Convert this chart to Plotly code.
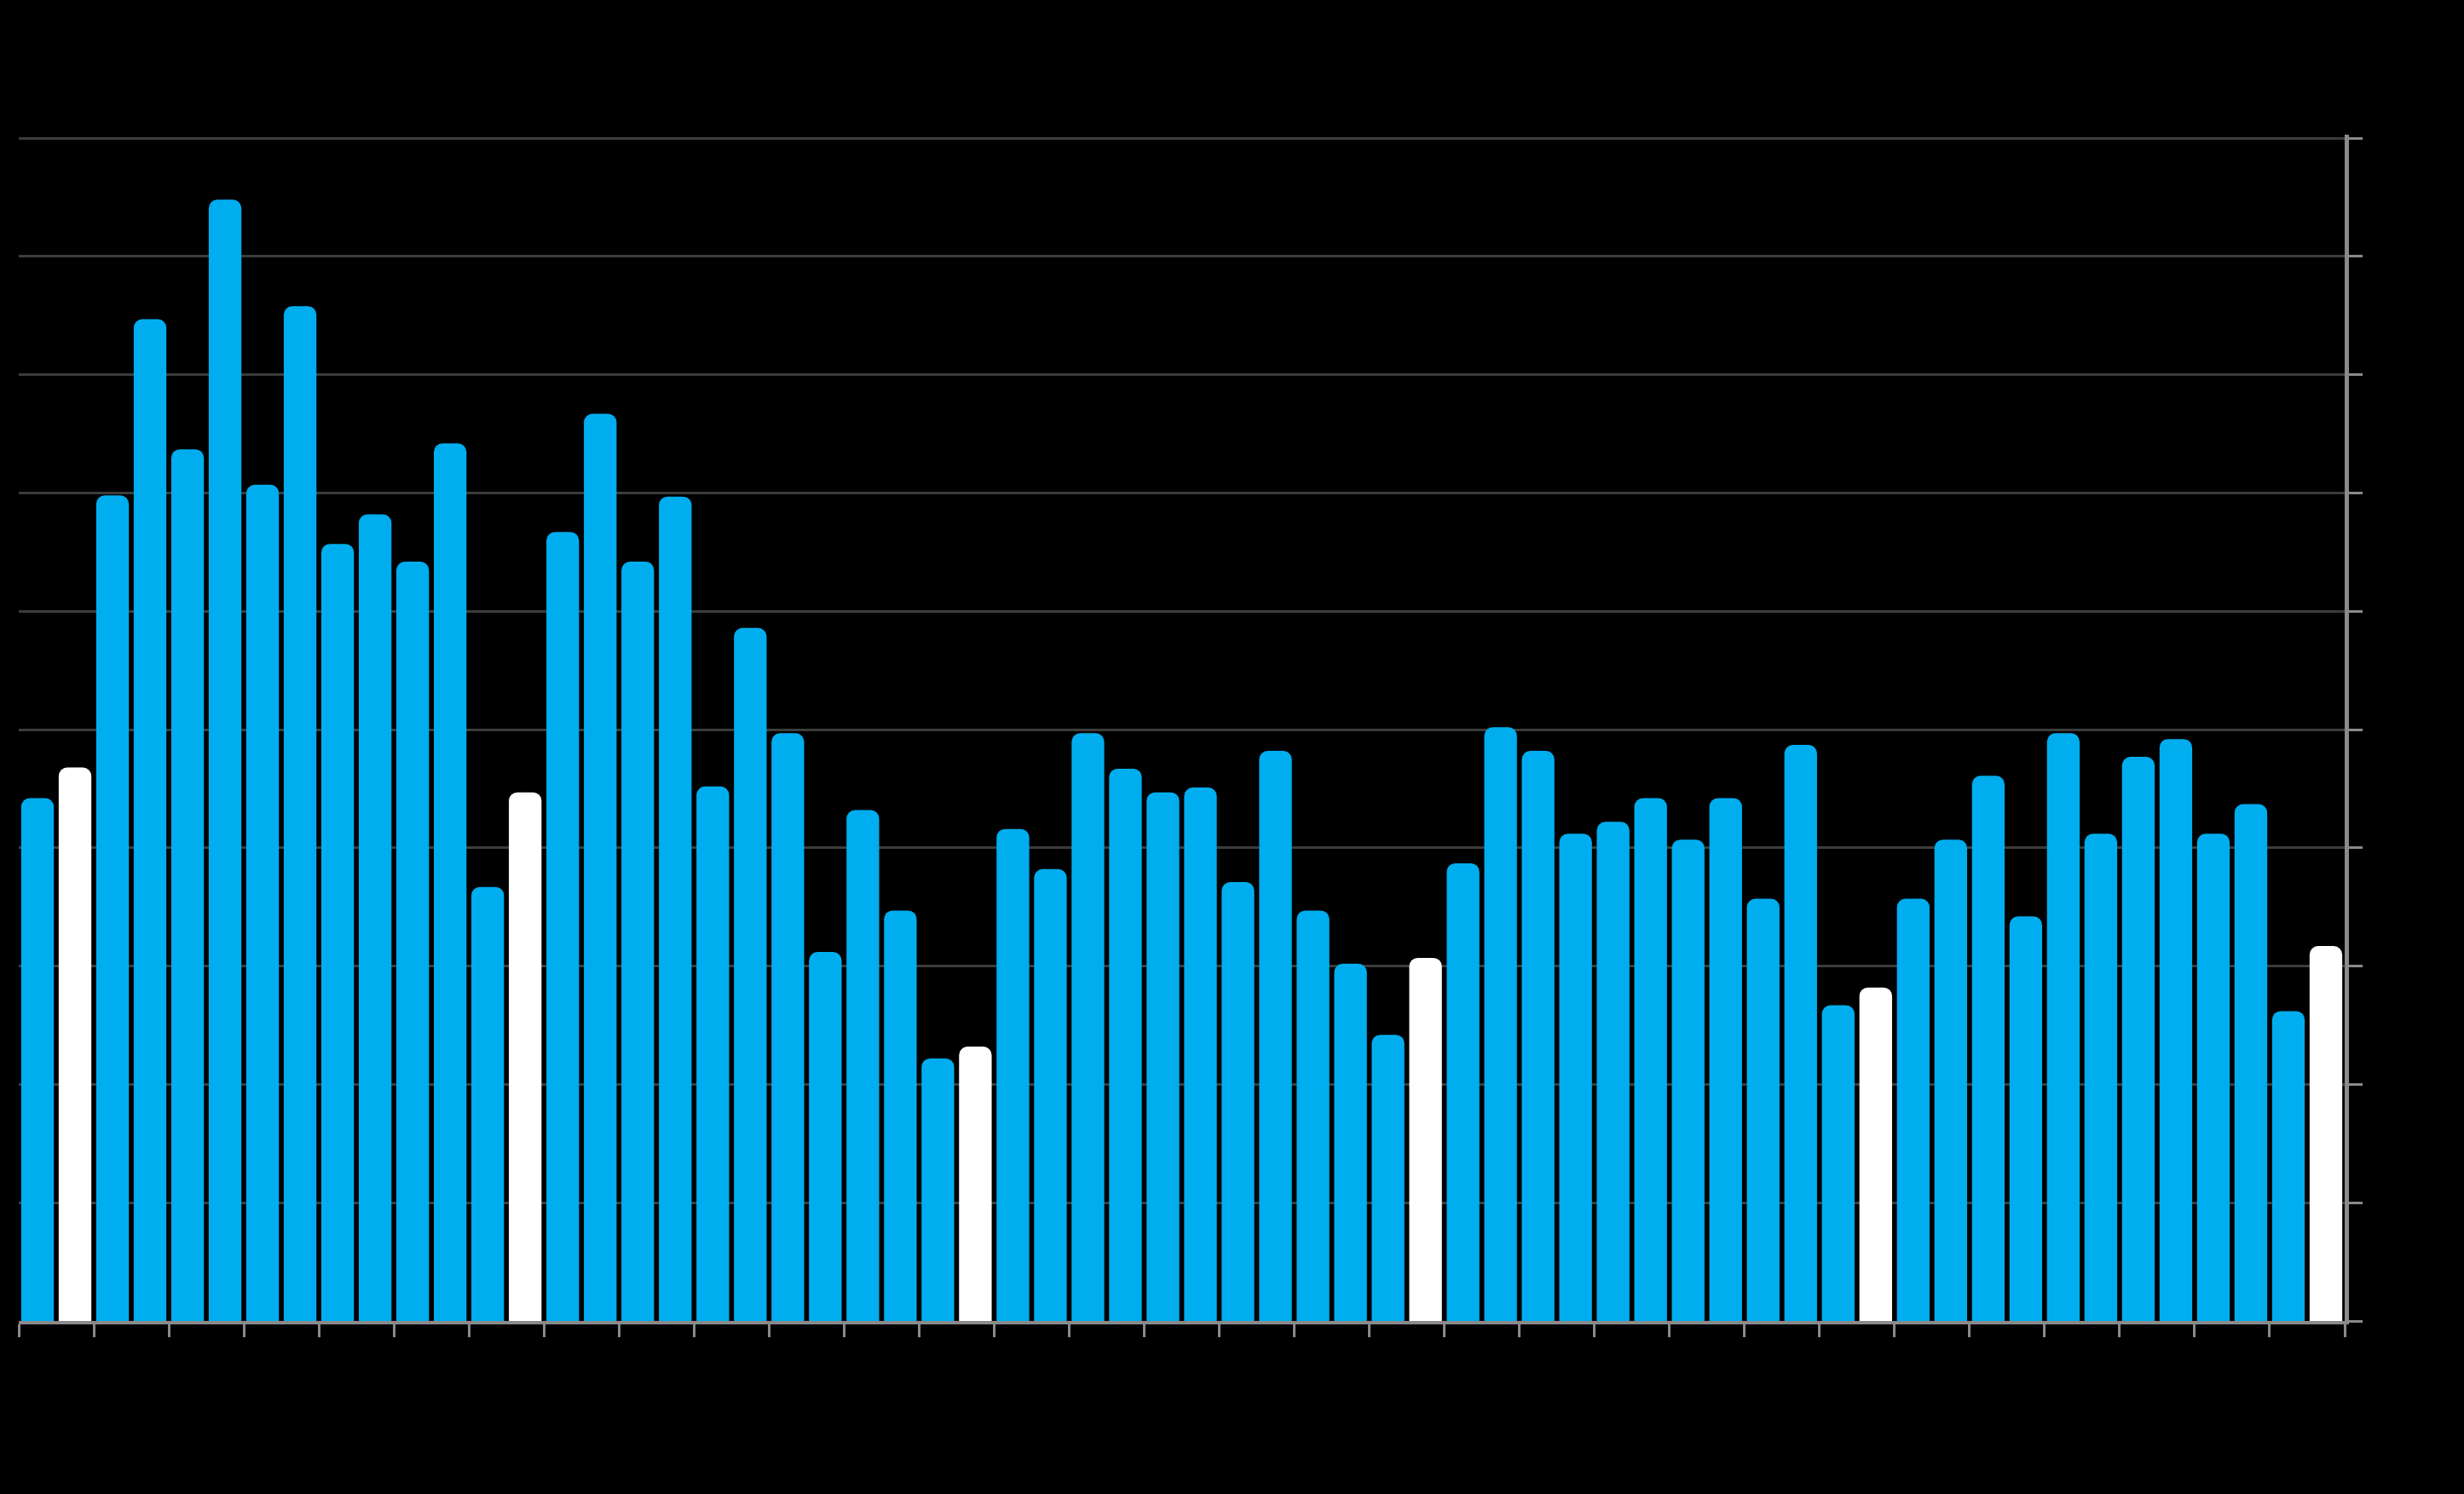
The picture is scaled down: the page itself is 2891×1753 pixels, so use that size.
import plotly.graph_objects as go

# Monthly series (62 periods)
periods = list(range(1, 63))
values = [
    4.42, 4.68, 6.98, 8.47, 7.37, 9.48, 7.07, 8.58, 6.57, 6.82, 6.42, 7.42,
    3.67, 4.47, 6.67, 7.67, 6.42, 6.97, 4.52, 5.86, 4.97, 3.12, 4.32, 3.47,
    2.22, 2.32, 4.16, 3.82, 4.97, 4.67, 4.47, 4.51, 3.71, 4.82, 3.47, 3.02,
    2.42, 3.07, 3.87, 5.02, 4.82, 4.12, 4.22, 4.42, 4.07, 4.42, 3.57, 4.87,
    2.67, 2.82, 3.57, 4.07, 4.61, 3.42, 4.97, 4.12, 4.77, 4.92, 4.12, 4.37,
    2.62, 3.17,
]
highlight_periods = [2, 14, 26, 38, 50, 62]  # drawn in white

BLUE = "#00AEEF"
WHITE = "#FFFFFF"
colors = [WHITE if p in highlight_periods else BLUE for p in periods]

fig = go.Figure(
    go.Bar(
        x=periods,
        y=values,
        marker=dict(color=colors, line=dict(width=0), cornerradius=10),
        width=0.87,
        showlegend=False,
        hoverinfo="skip",
    )
)

tick_bounds = [p - 0.5 for p in periods[::2]] + [periods[-1] + 0.5]

fig.update_layout(
    width=2891,
    height=1753,
    paper_bgcolor="#000000",
    plot_bgcolor="#000000",
    margin=dict(l=22, r=140, t=158, b=203),
    bargap=0.13,
    xaxis=dict(
        range=[periods[0] - 0.5, periods[-1] + 0.5],
        tickmode="array",
        tickvals=tick_bounds,
        showticklabels=False,
        ticks="outside",
        ticklen=15,
        tickwidth=3,
        tickcolor="#8a8a8a",
        showline=True,
        linecolor="#8a8a8a",
        linewidth=4,
        showgrid=False,
        zeroline=False,
    ),
    yaxis=dict(
        side="right",
        range=[0, 10.03],
        tickmode="array",
        tickvals=list(range(0, 11)),
        showticklabels=False,
        ticks="outside",
        ticklen=16,
        tickwidth=3,
        tickcolor="#8a8a8a",
        showline=True,
        linecolor="#8a8a8a",
        linewidth=5,
        showgrid=True,
        gridcolor="#3c3c3c",
        gridwidth=3,
        zeroline=False,
    ),
)

fig.write_html(
    "out.html",
    config={"displayModeBar": False},
    post_script="document.body.style.margin='0';document.body.style.background='#000';",
)
